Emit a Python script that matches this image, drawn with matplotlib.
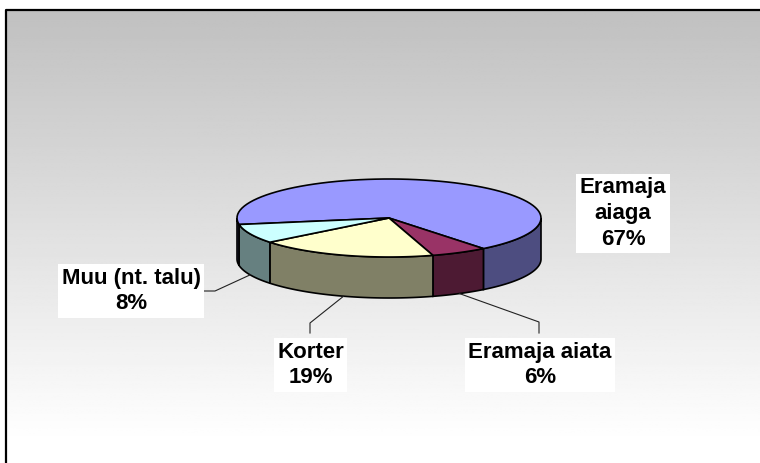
import numpy as np
import matplotlib
matplotlib.use("Agg")
import matplotlib.pyplot as plt
from matplotlib.patches import Polygon

# data
labels = ["Eramaja\naiaga", "Eramaja aiata", "Korter", "Muu (nt. talu)"]
shares = [67, 6, 19, 8]
top_colors = ["#9999FF", "#993366", "#FFFFCC", "#CCFFFF"]
side_colors = ["#4D4D80", "#4D1A33", "#808066", "#668080"]

# pie geometry in pixels (y down)
cx, cy = 389, 218
rx, ry = 152, 39
depth = 41
start = -189.6

plt.rcParams['font.family'] = ['Liberation Sans', 'DejaVu Sans']

fig = plt.figure(figsize=(7.6, 4.63), dpi=100)
ax = fig.add_axes([0, 0, 1, 1])
ax.set_xlim(0, 760)
ax.set_ylim(463, 0)
ax.axis("off")

# gradient background
grad = np.linspace(0, 1, 256)
shade = 192 + (255 - 192) * np.clip(grad * 1.05, 0, 1)
img = np.repeat(shade[:, None], 2, axis=1) / 255.0
ax.imshow(img, cmap="gray", vmin=0, vmax=1, extent=(6, 760, 463, 10),
          aspect="auto", zorder=0)
ax.plot([6, 6, 760], [463, 10, 10], color="black", lw=1.6, zorder=1)


def arc(t1, t2, dy=0):
    t = np.radians(np.linspace(t1, t2, 80))
    return np.column_stack([cx + rx * np.cos(t), cy + ry * np.sin(t) + dy])


angles = start + np.concatenate([[0], np.cumsum(shares)]) * 3.6

# side faces
for i in range(len(shares)):
    a1, a2 = angles[i], angles[i + 1]
    for lo, hi in [(-360, -180), (0, 180), (360, 540)]:
        s, e = max(a1, lo), min(a2, hi)
        if e > s:
            pts = np.vstack([arc(s, e), arc(e, s, depth)])
            ax.add_patch(Polygon(pts, closed=True, fc=side_colors[i],
                                 ec="black", lw=1.2, zorder=2))

# top faces
for i in range(len(shares)):
    pts = np.vstack([[cx, cy], arc(angles[i], angles[i + 1])])
    ax.add_patch(Polygon(pts, closed=True, fc=top_colors[i],
                         ec="black", lw=1.2, zorder=3))

# labels
label_pos = [(623, 213.5), (540, 365), (310.5, 365), (131, 291)]
for i, lab in enumerate(labels):
    x, y = label_pos[i]
    ax.text(x, y, f"{lab}\n{shares[i]}%", ha="center", va="center",
            fontsize=16, fontweight="bold", linespacing=1.3, zorder=5,
            bbox=dict(boxstyle="square,pad=0.15", fc="white", ec="none"))

# leader lines from slice mid angles
mids = (angles[:-1] + angles[1:]) / 2
legs = {1: [(539, 322), (539, 333)], 2: [(310, 323), (310, 333)],
        3: [(215, 291), (203, 291)]}
for i, pts in legs.items():
    t = np.radians(mids[i])
    ax0 = cx + rx * np.cos(t)
    ay0 = cy + ry * np.sin(t) + depth
    xs = [ax0] + [p[0] for p in pts]
    ys = [ay0] + [p[1] for p in pts]
    ax.plot(xs, ys, color="#222222", lw=0.8, zorder=4)

fig.savefig("out.png", dpi=100)
